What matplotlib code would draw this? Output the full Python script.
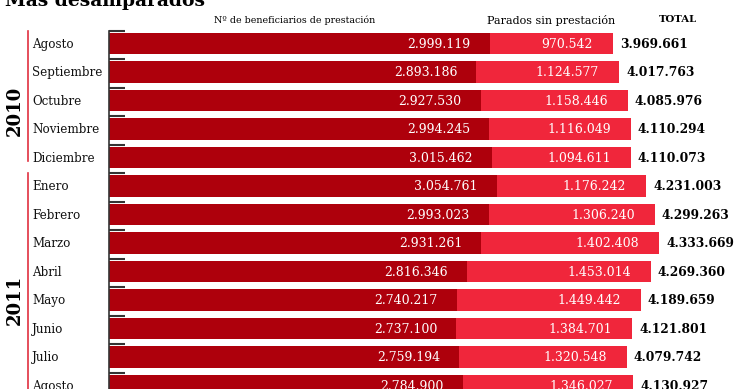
import matplotlib
matplotlib.use("Agg")
import matplotlib.pyplot as plt
import matplotlib.transforms as mtransforms

months = ["Agosto", "Septiembre", "Octubre", "Noviembre", "Diciembre",
          "Enero", "Febrero", "Marzo", "Abril", "Mayo", "Junio", "Julio", "Agosto"]
beneficiarios = [2999119, 2893186, 2927530, 2994245, 3015462, 3054761, 2993023,
                 2931261, 2816346, 2740217, 2737100, 2759194, 2784900]
parados = [970542, 1124577, 1158446, 1116049, 1094611, 1176242, 1306240,
           1402408, 1453014, 1449442, 1384701, 1320548, 1346027]
totales = [3969661, 4017763, 4085976, 4110294, 4110073, 4231003, 4299263,
           4333669, 4269360, 4189659, 4121801, 4079742, 4130927]
years = ["2010", "2011"]
year_rows = [(0, 4), (5, 12)]
headers = ["Nº de beneficiarios de prestación", "Parados sin prestación", "TOTAL"]
title = "Más desamparados"

def fmt(v):
    return f"{v:,}".replace(",", ".")

W, H = 740, 389
fig = plt.figure(figsize=(W / 100, H / 100), dpi=100)
fig.patch.set_facecolor("white")
serif = "DejaVu Serif"

left_px = 109
ax = fig.add_axes([left_px / W, 0, (W - left_px) / W, 1])
scale = 1.2694e-4  # px per unit
ax.set_xlim(0, (W - left_px) / scale)
row_h = 28.5
top_c = 43.5
ax.set_ylim((H - top_c) / row_h, -top_c / row_h)

dark = "#ae000c"
light = "#f0263b"
n = len(months)
ys = list(range(n))
ax.barh(ys, beneficiarios, height=0.74, color=dark, zorder=2)
ax.barh(ys, parados, left=beneficiarios, height=0.74, color=light, zorder=2)

px = 1 / scale
for i in range(n):
    b, p, t = beneficiarios[i], parados[i], totales[i]
    ax.text(b - 19 * px, i + 0.03, fmt(b), ha="right", va="center", color="white",
            fontsize=9, family=serif, zorder=3)
    ax.text(b + p - 20 * px, i + 0.03, fmt(p), ha="right", va="center", color="white",
            fontsize=9, family=serif, zorder=3)
    ax.text(b + p + 7 * px, i + 0.03, fmt(t), ha="left", va="center", color="black",
            fontsize=8.8, family=serif, fontweight="bold", zorder=3)

# axis styling
for s in ["top", "right", "bottom"]:
    ax.spines[s].set_visible(False)
ax.spines["left"].set_color("#333333")
ax.spines["left"].set_linewidth(1.2)
ax.spines["left"].set_bounds(-0.44, n)
ax.set_xticks([])
ax.set_yticks([i - 0.44 for i in ys])
ax.set_yticklabels([])
ax.tick_params(axis="y", direction="in", length=11.5, width=1.5, color="#333333")
ax.set_facecolor("none")

# month labels
tr = mtransforms.blended_transform_factory(fig.transFigure, ax.transData)
for i, m in enumerate(months):
    ax.text(32 / W, i + 0.03, m, transform=tr, ha="left", va="center",
            fontsize=8.6, family=serif, color="#111111", clip_on=False)

# year brackets
for yr, (a, b) in zip(years, year_rows):
    ax.plot([28 / W, 28 / W], [a - 0.44, b + 0.12], transform=tr, color="#e0303f",
            lw=1.2, clip_on=False)
ax.text(15 / W, 2.35, years[0], transform=tr, rotation=90, ha="center", va="center",
        fontsize=13, family=serif, fontweight="bold", clip_on=False)
ax.text(15 / W, 9.0, years[1], transform=tr, rotation=90, ha="center", va="center",
        fontsize=13, family=serif, fontweight="bold", clip_on=False)

# headers
hy = 1 - 20 / H
fig.text(295 / W, hy, headers[0], ha="center", va="center", fontsize=6.8, family=serif)
fig.text(551 / W, hy, headers[1], ha="center", va="center", fontsize=8.0, family=serif)
fig.text(678 / W, hy, headers[2], ha="center", va="center", fontsize=7.3, family=serif,
         fontweight="bold")

# title (cropped at top)
fig.text(5 / W, 1 - 5.5 / H, title, ha="left", va="baseline", fontsize=13.5,
         family=serif, fontweight="bold")

fig.savefig("out.png", dpi=100, facecolor="white")
